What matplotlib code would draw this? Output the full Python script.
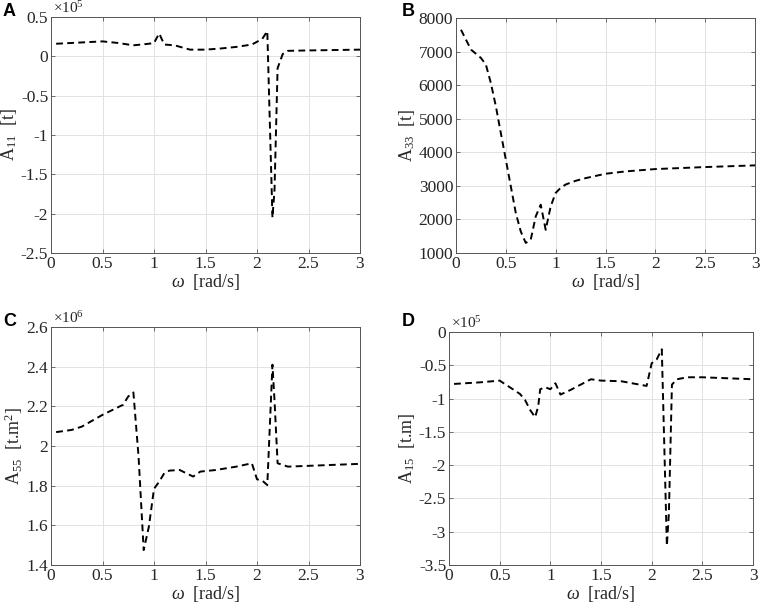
import numpy as np
import matplotlib
matplotlib.use("Agg")
import matplotlib.pyplot as plt
from matplotlib.ticker import FuncFormatter, MultipleLocator

plt.rcParams['font.family'] = ['Liberation Serif', 'DejaVu Serif']
plt.rcParams['mathtext.fontset'] = 'custom'
plt.rcParams['mathtext.rm'] = 'Liberation Serif'
plt.rcParams['mathtext.it'] = 'Liberation Serif:italic'
plt.rcParams['axes.unicode_minus'] = False

# panel A: A11 [t], x1e5
w_a = [0.05, 0.2, 0.35, 0.5, 0.65, 0.8, 0.95, 1.0, 1.05, 1.1, 1.2, 1.35, 1.5,
       1.65, 1.8, 1.95, 2.05, 2.1, 2.15, 2.17, 2.2, 2.25, 2.3, 2.5, 2.75, 3.0]
a11 = [0.16, 0.17, 0.18, 0.19, 0.17, 0.14, 0.16, 0.17, 0.29, 0.15, 0.14, 0.085, 0.085,
       0.10, 0.12, 0.15, 0.22, 0.32, -2.05, -1.7, -0.15, 0.03, 0.07, 0.075, 0.08, 0.085]

# panel B: A33 [t]
w_b = [0.05, 0.15, 0.25, 0.3, 0.35, 0.4, 0.45, 0.5, 0.55, 0.6, 0.65, 0.7, 0.75,
       0.8, 0.85, 0.9, 0.95, 1.0, 1.05, 1.1, 1.2, 1.3, 1.5, 1.7, 2.0, 2.5, 3.0]
a33 = [7650, 7060, 6810, 6610, 6060, 5370, 4570, 3780, 2985, 2190, 1640, 1300, 1400,
       2090, 2440, 1690, 2390, 2790, 2940, 3040, 3150, 3230, 3360, 3430, 3500, 3560, 3610]

# panel C: A55 [t.m2], x1e6
w_c = [0.05, 0.2, 0.3, 0.5, 0.7, 0.75, 0.8, 0.85, 0.9, 0.95, 1.0, 1.05, 1.1, 1.15,
       1.25, 1.3, 1.38, 1.45, 1.6, 1.8, 1.95, 2.0, 2.05, 2.1, 2.15, 2.17, 2.2, 2.3,
       2.5, 3.0]
a55 = [2.070, 2.081, 2.098, 2.157, 2.208, 2.25, 2.27, 1.947, 1.475, 1.593, 1.784, 1.82,
       1.863, 1.876, 1.879, 1.866, 1.846, 1.871, 1.879, 1.896, 1.913, 1.832, 1.826,
       1.803, 2.41, 2.23, 1.913, 1.896, 1.90, 1.91]

# panel D: A15 [t.m], x1e5
w_d = [0.05, 0.3, 0.5, 0.6, 0.7, 0.75, 0.8, 0.85, 0.88, 0.9, 0.95, 1.0, 1.05, 1.1,
       1.2, 1.3, 1.4, 1.5, 1.7, 1.95, 2.0, 2.05, 2.1, 2.15, 2.17, 2.2, 2.25, 2.35,
       2.5, 3.0]
a15 = [-0.78, -0.757, -0.73, -0.83, -0.93, -1.02, -1.17, -1.28, -1.12, -0.86, -0.83,
       -0.86, -0.77, -0.94, -0.87, -0.79, -0.71, -0.73, -0.74, -0.81, -0.47, -0.41,
       -0.26, -3.21, -2.72, -0.79, -0.71, -0.68, -0.68, -0.71]

panels = [
    ("A", w_a, np.array(a11) * 1e5, 1e5, (-2.5e5, 0.5e5), 0.5e5, r"A$_{11}$  [t]", 5),
    ("B", w_b, np.array(a33), 1, (1000, 8000), 1000, r"A$_{33}$  [t]", None),
    ("C", w_c, np.array(a55) * 1e6, 1e6, (1.4e6, 2.6e6), 0.2e6, r"A$_{55}$  [t.m$^2$]", 6),
    ("D", w_d, np.array(a15) * 1e5, 1e5, (-3.5e5, 0), 0.5e5, r"A$_{15}$  [t.m]", 5),
]

# axes boxes in pixels (left, top, right, bottom)
boxes = [(51, 17, 360, 253), (456, 18, 755, 253), (51, 327, 360, 565), (449, 332, 753, 565)]
letters = [(3, 3), (402, 3), (3, 313), (402, 313)]

W, H = 761, 603
fig = plt.figure(figsize=(W / 100, H / 100), dpi=100)

for (name, w, vals, scale, ylim, ystep, ylab, expo), (l, t, r, b), (lx, ly) in zip(panels, boxes, letters):
    ax = fig.add_axes([l / W, 1 - b / H, (r - l) / W, (b - t) / H])
    ax.plot(w, vals, color="black", linestyle=(0, (3.5, 2.2)), linewidth=1.4)
    ax.set_xlim(0, 3)
    ax.set_ylim(*ylim)
    ax.xaxis.set_major_locator(MultipleLocator(0.5))
    ax.yaxis.set_major_locator(MultipleLocator(ystep))
    ax.xaxis.set_major_formatter(FuncFormatter(lambda v, p: f"{v:g}"))
    ax.yaxis.set_major_formatter(FuncFormatter(lambda v, p, s=scale: f"{round(v / s, 6):g}"))
    ax.grid(True, color="#e2e2e2", linewidth=0.7)
    ax.set_axisbelow(True)
    ax.tick_params(direction="in", length=3, width=0.6, color="#555555",
                   labelsize=12.5, labelcolor="#262626", top=True, right=True, pad=2)
    for sp in ax.spines.values():
        sp.set_color("#555555")
        sp.set_linewidth(0.7)
    ax.set_xlabel(r"$\omega$  [rad/s]", fontsize=13, labelpad=0, color="#262626")
    ax.set_ylabel(ylab, fontsize=13, labelpad=1, color="#262626")
    if expo:
        ax.text(0.005, 1.003, r"$\times 10^{%d}$" % expo, transform=ax.transAxes,
                ha="left", va="bottom", fontsize=11, color="#262626")
    fig.text(lx / W, 1 - ly / H, name, fontsize=13, fontweight="bold",
             family="Liberation Sans", ha="left", va="top")

fig.savefig("out.png", dpi=100)
